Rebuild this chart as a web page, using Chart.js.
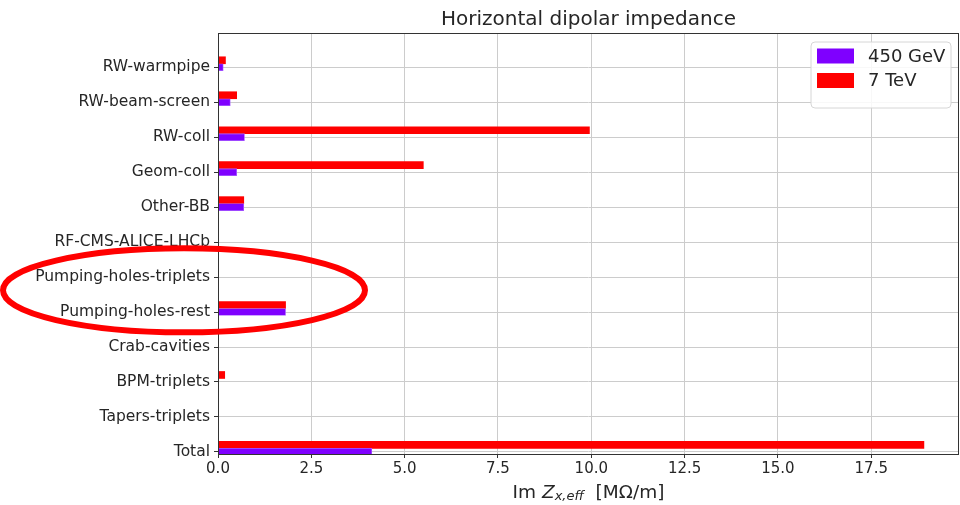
<!DOCTYPE html>
<html>
<head>
<meta charset="utf-8">
<script src="https://cdn.jsdelivr.net/npm/chart.js@4.4.1/dist/chart.umd.min.js"></script>
<style>
  body { margin: 0; background: #fff; }
  #wrap { width: 960px; height: 505px; position: relative; }
</style>
</head>
<body>
<div id="wrap"><canvas id="impChart"></canvas></div>
<script>
// Categories from top to bottom, as in the figure
const categories = ['RW-warmpipe', 'RW-beam-screen', 'RW-coll', 'Geom-coll', 'Other-BB',
    'RF-CMS-ALICE-LHCb', 'Pumping-holes-triplets', 'Pumping-holes-rest', 'Crab-cavities',
    'BPM-triplets', 'Tapers-triplets', 'Total'];
const imZ450GeV = [0.14, 0.33, 0.71, 0.50, 0.69, 0, 0, 1.81, 0, 0, 0, 4.12];
const imZ7TeV   = [0.20, 0.50, 9.95, 5.50, 0.69, 0, 0, 1.81, 0, 0.18, 0, 18.91];
const xTicks = [0, 2.5, 5, 7.5, 10, 12.5, 15, 17.5];
const highlighted = ['Pumping-holes-triplets', 'Pumping-holes-rest'];

const FONT = "'DejaVu Sans', sans-serif";
const n = categories.length;
// position on the y axis: Total at 0, first category at the top
const posOf = i => n - 1 - i;

const data450 = categories.map((c, i) => ({ x: imZ450GeV[i], y: posOf(i) }));
const data7 = categories.map((c, i) => ({ x: imZ7TeV[i], y: posOf(i) + 0.2 }));

// title, axis label, legend box and the red ellipse
const decorations = {
    id: 'decorations',
    afterDraw(chart) {
        const ctx = chart.ctx;
        const a = chart.chartArea;
        const ys = chart.scales.y;
        ctx.save();
        // frame
        ctx.strokeStyle = '#333';
        ctx.lineWidth = 1;
        ctx.strokeRect(a.left + 0.5, a.top + 0.5, a.right - a.left - 1, a.bottom - a.top);

        // title
        ctx.fillStyle = '#262626';
        ctx.font = '20px ' + FONT;
        ctx.textAlign = 'center';
        ctx.textBaseline = 'middle';
        ctx.fillText('Horizontal dipolar impedance', (a.left + a.right) / 2, 20);

        // x axis label: Im Z_{x,eff}  [MΩ/m]
        const parts = [
            { t: 'Im ', f: '18.5px ' + FONT, dy: 0 },
            { t: 'Z', f: 'italic 18.5px ' + FONT, dy: 0 },
            { t: 'x,eff', f: 'italic 13px ' + FONT, dy: 4 },
            { t: '  [MΩ/m]', f: '18.5px ' + FONT, dy: 0 }
        ];
        let total = 0;
        parts.forEach(p => { ctx.font = p.f; p.w = ctx.measureText(p.t).width; total += p.w; });
        let x = (a.left + a.right) / 2 - total / 2;
        ctx.textAlign = 'left';
        parts.forEach(p => {
            ctx.font = p.f;
            ctx.fillText(p.t, x, 493 + p.dy);
            x += p.w;
        });

        // legend
        const bx = a.right - 148, by = a.top + 9, bw = 140, bh = 66;
        ctx.fillStyle = 'rgba(255,255,255,0.85)';
        ctx.strokeStyle = '#d6d6d6';
        ctx.beginPath();
        ctx.roundRect(bx, by, bw, bh, 4);
        ctx.fill();
        ctx.stroke();
        chart.data.datasets.forEach((ds, k) => {
            const cy = by + 14 + k * 24.5;
            ctx.fillStyle = ds.backgroundColor;
            ctx.fillRect(bx + 6, cy - 7.5, 37, 15);
            ctx.fillStyle = '#262626';
            ctx.font = '18px ' + FONT;
            ctx.textBaseline = 'middle';
            ctx.fillText(ds.label, bx + 57, cy + 1);
        });

        // red ellipse around the pumping-holes rows
        const y1 = ys.getPixelForValue(posOf(categories.indexOf(highlighted[0])));
        const y2 = ys.getPixelForValue(posOf(categories.indexOf(highlighted[1])));
        const cy = y1 + (y2 - y1) * 0.38;
        ctx.strokeStyle = '#ff0000';
        ctx.lineWidth = 6;
        ctx.beginPath();
        ctx.ellipse(a.left - 34, cy, 181, 42, 0, 0, Math.PI * 2);
        ctx.stroke();
        ctx.restore();
    }
};

new Chart(document.getElementById('impChart'), {
    type: 'bar',
    data: {
        datasets: [
            { label: '450 GeV', data: data450, backgroundColor: '#7f00ff', borderColor: '#a860ff',
              borderWidth: 0.8, borderSkipped: false },
            { label: '7 TeV', data: data7, backgroundColor: '#ff0000', borderWidth: 0 }
        ]
    },
    options: {
        indexAxis: 'y',
        responsive: true,
        maintainAspectRatio: false,
        animation: false,
        layout: { padding: { top: 33, right: 1, left: 0, bottom: 0 } },
        datasets: { bar: { barThickness: 7, grouped: false } },
        plugins: {
            legend: { display: false },
            title: { display: false },
            tooltip: { enabled: false }
        },
        scales: {
            x: {
                type: 'linear',
                min: 0,
                max: 19.85,
                bounds: 'data',
                afterFit: s => { s.height = 51; },
                afterBuildTicks: s => { s.ticks = xTicks.map(v => ({ value: v })); },
                ticks: {
                    callback: v => v.toFixed(1),
                    color: '#262626',
                    font: { family: FONT, size: 15 },
                    padding: 2,
                    maxRotation: 0
                },
                grid: { color: '#cccccc', tickColor: '#333', tickLength: 4 },
                border: { display: false }
            },
            y: {
                type: 'linear',
                min: -0.06,
                max: 11.98,
                bounds: 'data',
                offset: false,
                afterFit: s => { s.width = 218; },
                afterBuildTicks: s => { s.ticks = categories.map((c, i) => ({ value: posOf(i) })); },
                ticks: {
                    callback: v => categories[n - 1 - v],
                    color: '#262626',
                    font: { family: FONT, size: 15.5 },
                    padding: 4,
                    autoSkip: false
                },
                grid: { color: '#cccccc', tickColor: '#333', tickLength: 4, offset: false },
                border: { display: false }
            }
        }
    },
    plugins: [decorations]
});
</script>
</body>
</html>
